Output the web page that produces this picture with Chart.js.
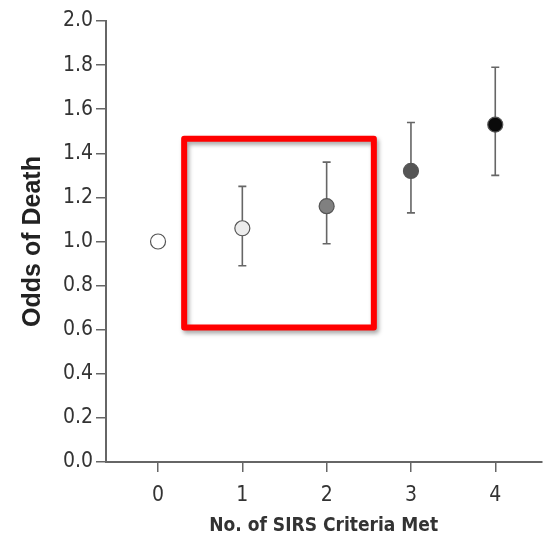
<!DOCTYPE html>
<html>
<head>
<meta charset="utf-8">
<script src="https://cdn.jsdelivr.net/npm/chart.js@4/dist/chart.umd.min.js"></script>
<style>
  html, body { margin: 0; padding: 0; background: #fff; }
  #wrap { width: 550px; height: 541px; position: relative; }
</style>
</head>
<body>
<div id="wrap"><canvas id="sirsChart"></canvas></div>
<script>
// SIRS criteria vs odds of death
const criteriaMet = [0, 1, 2, 3, 4];
const oddsOfDeath = [1.00, 1.06, 1.16, 1.32, 1.53];
const ciLow = [1.00, 0.89, 0.99, 1.13, 1.30];
const ciHigh = [1.00, 1.25, 1.36, 1.54, 1.79];
const yTicks = [0, 0.2, 0.4, 0.6, 0.8, 1.0, 1.2, 1.4, 1.6, 1.8, 2.0];
const markerFills = ['#ffffff', '#ececec', '#808080', '#555555', '#0a0a0a'];

// highlight box, in data units (x from..to, y from..to)
const boxX = [0.31, 2.56];
const boxY = [0.61, 1.466];

const tickFont = { family: "'DejaVu Sans Condensed', sans-serif", size: 21 };

const errorBars = {
    id: 'errorBars',
    beforeDatasetsDraw(chart) {
        const { ctx, scales: { x, y } } = chart;
        ctx.save();
        ctx.strokeStyle = '#666';
        ctx.lineWidth = 1.6;
        criteriaMet.forEach((c, i) => {
            if (ciHigh[i] === ciLow[i]) return;
            const px = x.getPixelForValue(c);
            const top = y.getPixelForValue(ciHigh[i]);
            const bot = y.getPixelForValue(ciLow[i]);
            ctx.beginPath();
            ctx.moveTo(px, top); ctx.lineTo(px, bot);
            ctx.moveTo(px - 4, top); ctx.lineTo(px + 4, top);
            ctx.moveTo(px - 4, bot); ctx.lineTo(px + 4, bot);
            ctx.stroke();
        });
        ctx.restore();
    }
};

const highlightBox = {
    id: 'highlightBox',
    afterDatasetsDraw(chart) {
        const { ctx, scales: { x, y } } = chart;
        const left = x.getPixelForValue(boxX[0]);
        const right = x.getPixelForValue(boxX[1]);
        const top = y.getPixelForValue(boxY[1]);
        const bot = y.getPixelForValue(boxY[0]);
        ctx.save();
        ctx.shadowColor = 'rgba(0,0,0,0.35)';
        ctx.shadowBlur = 4;
        ctx.shadowOffsetX = 2;
        ctx.shadowOffsetY = 3;
        ctx.strokeStyle = '#ff0000';
        ctx.lineWidth = 6;
        ctx.lineJoin = 'round';
        ctx.strokeRect(left, top, right - left, bot - top);
        ctx.restore();
    }
};

new Chart(document.getElementById('sirsChart'), {
    type: 'scatter',
    data: {
        datasets: [{
            data: criteriaMet.map((c, i) => ({ x: c, y: oddsOfDeath[i] })),
            pointBackgroundColor: markerFills,
            pointBorderColor: '#555',
            pointBorderWidth: 1.2,
            pointRadius: 7.5,
            pointHoverRadius: 7.5
        }]
    },
    options: {
        responsive: true,
        maintainAspectRatio: false,
        animation: false,
        layout: { padding: { top: 21, right: 0, left: 0, bottom: 0 } },
        plugins: { legend: { display: false }, tooltip: { enabled: false } },
        scales: {
            x: {
                type: 'linear',
                min: -0.617,
                max: 4.546,
                afterBuildTicks: s => { s.ticks = criteriaMet.map(v => ({ value: v })); },
                afterFit: s => { s.height = 79; },
                ticks: { color: '#333', font: tickFont, padding: 11, autoSkip: false },
                grid: { drawOnChartArea: false, drawTicks: true, tickLength: 10, color: '#666', lineWidth: 1.5 },
                border: { display: true, color: '#666', width: 2 },
                title: {
                    display: true,
                    text: 'No. of SIRS Criteria Met',
                    color: '#333',
                    font: { family: "'DejaVu Sans Condensed', sans-serif", size: 19, weight: 'bold' },
                    padding: { top: 0, bottom: 4 }
                }
            },
            y: {
                min: 0,
                max: 2,
                afterBuildTicks: s => { s.ticks = yTicks.map(v => ({ value: v })); },
                afterFit: s => { s.width = 106; },
                ticks: { color: '#333', font: tickFont, padding: 3, callback: v => v.toFixed(1) },
                grid: { drawOnChartArea: false, drawTicks: true, tickLength: 10, color: '#666', lineWidth: 1.5 },
                border: { display: true, color: '#666', width: 2 },
                title: {
                    display: true,
                    text: 'Odds of Death',
                    color: '#222',
                    font: { family: "'Liberation Sans', Arial, sans-serif", size: 25, weight: 'bold' },
                    padding: { top: 18, bottom: 0 }
                }
            }
        }
    },
    plugins: [errorBars, highlightBox]
});
</script>
</body>
</html>
